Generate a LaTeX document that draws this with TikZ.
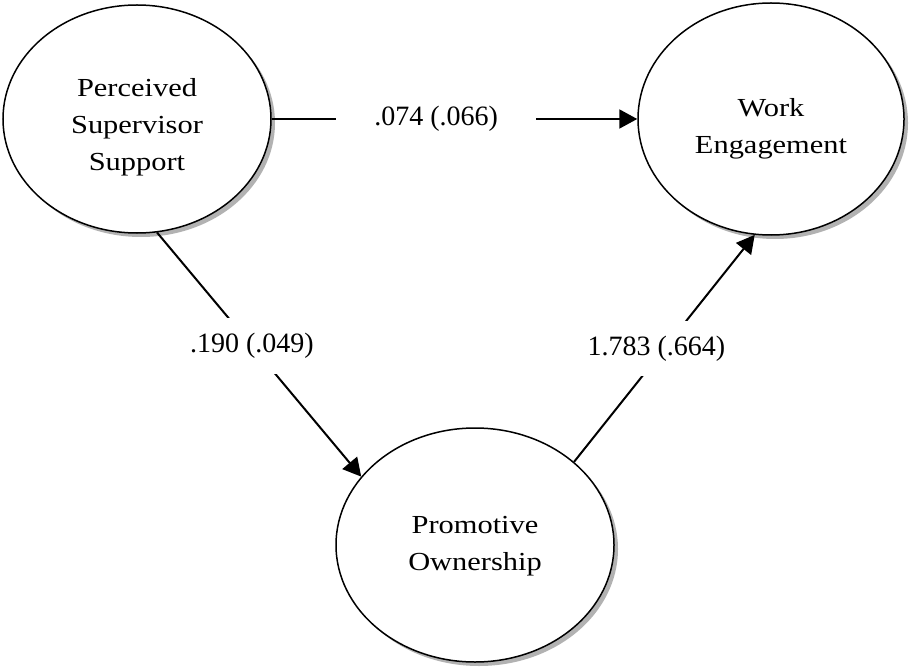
\documentclass[tikz,border=0pt]{standalone}
\usepackage{fontspec}
\setmainfont{Liberation Serif}
\newfontfamily\widefont[FakeStretch=1.17]{Liberation Serif}
\usetikzlibrary{shapes.geometric,arrows.meta,shadows}
\begin{document}
\begin{tikzpicture}[x=1pt,y=-1pt,
  construct/.style={ellipse, draw=black, line width=1.5pt, fill=white,
    inner sep=0pt,
    drop shadow={shadow xshift=4pt, shadow yshift=-4pt, fill=black!60}},
  nametext/.style={align=center, font=\widefont\fontsize{26}{37}\selectfont},
  path/.style={line width=2pt, -{Triangle[length=18pt,width=19pt]}},
  coef/.style={fill=white, inner xsep=38pt, inner ysep=15pt,
    font=\fontsize{28}{30}\selectfont}]
  \useasboundingbox (0,0) rectangle (909,668);

  % latent constructs
  \node[construct, minimum width=268pt, minimum height=228pt,
    label={[nametext, yshift=-8pt]center:Perceived\\Supervisor\\Support}]
    (pss) at (137,119) {};
  \node[construct, minimum width=266pt, minimum height=232pt,
    label={[nametext, yshift=-10pt]center:Work\\Engagement}]
    (we) at (771,119) {};
  \node[construct, minimum width=278pt, minimum height=234pt,
    label={[nametext, yshift=-1pt]center:Promotive\\Ownership}]
    (po) at (475,545) {};

  % structural paths with coefficients (standard errors)
  \draw[path] (pss.east) -- node[coef, pos=0.45] (c1) {.074 (.066)} (we.west);
  \draw[path] (pss.-80) -- node[coef, pos=0.465] (c2) {.190 (.049)} (po.149);
  \draw[path] (po.40) -- node[coef, pos=0.5, xshift=-8pt] (c3) {1.783 (.664)} (we.-98);
\end{tikzpicture}
\end{document}
